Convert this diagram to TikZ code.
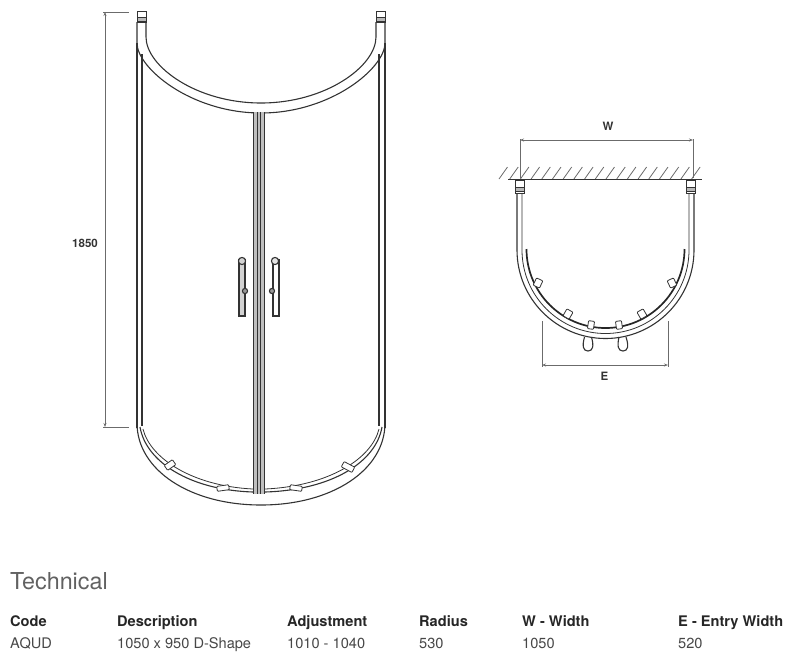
\documentclass[tikz,border=0pt]{standalone}
\usepackage{fontspec}
\setmainfont{TeX Gyre Heros}
\definecolor{ink}{gray}{0.2}
\definecolor{dimc}{gray}{0.42}
\definecolor{txt}{gray}{0.2}
\tikzset{
  frame/.style={draw=ink,line width=1.1pt},
  thin frame/.style={draw=ink,line width=0.8pt},
  heavy/.style={draw=black!85,line width=1.7pt},
  dimline/.style={draw=dimc,line width=0.8pt},
  dimarrow/.style={dimline,{Stealth[length=4pt,width=3pt]}-{Stealth[length=4pt,width=3pt]}},
  label/.style={font=\bfseries\fontsize{11.5}{13}\selectfont,text=txt,inner sep=0pt},
  head/.style={font=\bfseries\fontsize{14.6}{16}\selectfont,text=black!85,anchor=base west,inner sep=0pt},
  cell/.style={font=\fontsize{14.6}{16}\selectfont,text=black!72,anchor=base west,inner sep=0pt},
  roller/.style={draw=ink,line width=0.8pt,fill=white,rounded corners=0.8pt},
  postcap/.style={draw=ink,line width=0.7pt},
  postband/.style={draw=ink,line width=0.7pt,fill=gray!55}
}
\usetikzlibrary{arrows.meta}
\newcommand{\rollerat}[5]{\draw[roller,rotate around={#5:(#1,#2)}] ([xshift=-#3pt,yshift=-#4pt]#1,#2) rectangle ([xshift=#3pt,yshift=#4pt]#1,#2);}
\begin{document}
\begin{tikzpicture}[x=1pt,y=-1pt]
\useasboundingbox (0,0) rectangle (800,657);
% ---------- elevation ----------
% top posts
\draw[postcap] (137,11) rectangle (146,22);
\draw[postband] (137,17) rectangle (146,21);
\draw[postcap] (376,11) rectangle (385,22);
\draw[postband] (376,17) rectangle (385,21);
% top curved rail
\draw[frame] (137,22) -- (137,43) .. controls (137,68) and (191,113) .. (261,113) .. controls (331,113) and (385,68) .. (385,43) -- (385,22);
\draw[frame] (146,22) -- (146,37) .. controls (146,66) and (196,103) .. (261,103) .. controls (326,103) and (376,66) .. (376,37) -- (376,22);
% side lines
\draw[frame] (137,43) -- (137,428);
\draw[frame] (142,54) -- (142,426);
\draw[frame] (385,43) -- (385,428);
\draw[frame] (379,54) -- (379,426);
% bottom track
\draw[frame] (137,423) .. controls (137,470) and (190,505) .. (261,505) .. controls (332,505) and (385,470) .. (385,423);
\draw[frame] (140,427) .. controls (146,462) and (190,490) .. (253,492);
\draw[thin frame] (143,429) .. controls (150,458) and (192,486) .. (253,489);
\draw[frame] (382,427) .. controls (376,462) and (332,490) .. (265,492);
\draw[thin frame] (379,429) .. controls (372,458) and (330,486) .. (265,489);
\rollerat{170}{465}{5}{3}{35}
\rollerat{223}{488}{6}{2.5}{8}
\rollerat{296}{488}{6}{2.5}{-8}
\rollerat{348}{467}{6}{3}{-28}
% centre post
\fill[gray!50] (253,112) rectangle (265,494);
\draw[frame] (253.5,112) -- (253.5,494);
\draw[frame] (264.5,112) -- (264.5,494);
\draw[frame] (257.5,112) -- (257.5,494);
\draw[frame] (260.5,112) -- (260.5,494);
% handles
\draw[frame,fill=gray!35] (239,260) rectangle (245,316);
\draw[frame,fill=gray!35] (242,261) circle (3.6);
\draw[frame,fill=ink!50] (245,291) circle (2.6);
\draw[frame,fill=white] (273,260) rectangle (279,316);
\draw[frame,fill=gray!20] (275,261) circle (3.6);
\draw[frame,fill=ink!50] (272,291) circle (2.6);
% height dimension
\coordinate (h1) at (103,12);
\coordinate (h1e) at (129,12);
\coordinate (h2) at (103,427);
\coordinate (h2e) at (129,427);
\coordinate (ha) at (105,12);
\coordinate (hb) at (105,427);
\draw[dimline] (h1) -- (h1e);
\draw[dimline] (h2) -- (h2e);
\draw[dimarrow] (ha) -- (hb);
\node[label] (t1850) at (85,243.5) {1850};
% ---------- plan ----------
% wall
\foreach \x in {499,509.7,...,700} \draw[dimc,line width=0.8pt] (\x,179) -- (\x+8.5,167);
\draw[frame] (508,179.5) -- (702,179.5);
% posts
\draw[postcap] (515,180) rectangle (524,193);
\draw[postband] (515,187) rectangle (524,191);
\draw[postcap] (686,180) rectangle (695,193);
\draw[postband] (686,187) rectangle (695,191);
% shell
\draw[frame] (517,193) -- (517,250) arc[start angle=180,end angle=0,radius=88.5] -- (694,193);
\draw[thin frame] (522,193) -- (522,250) arc[start angle=180,end angle=0,radius=83.5] -- (689,193);
\draw[heavy] (526.5,249) arc[start angle=180,end angle=0,radius=79];
% rollers
\rollerat{538}{283}{3.5}{4}{-25}
\rollerat{568}{314}{3.5}{4}{-30}
\rollerat{591}{325}{3}{4}{-8}
\rollerat{619}{325}{3}{4}{8}
\rollerat{642}{314}{3.5}{4}{30}
\rollerat{672}{283}{3.5}{4}{25}
% plan handles
\draw[frame] (584.5,337) .. controls (582,346) and (583,351) .. (588,351) .. controls (593,351) and (594,346) .. (591.5,337);
\draw[frame] (619,337) .. controls (617,346) and (618,351) .. (623,351) .. controls (628,351) and (629,346) .. (626,337);
% W dimension
\coordinate (w1) at (520,178);
\coordinate (w1t) at (520,139);
\coordinate (w2) at (693,178);
\coordinate (w2t) at (693,139);
\draw[dimline] (w1) -- (w1t);
\draw[dimline] (w2) -- (w2t);
\draw[dimarrow] (520,140) -- (693,140);
\node[label] (tW) at (608,126.5) {W};
% E dimension
\coordinate (e1) at (542,321);
\coordinate (e1b) at (542,367);
\coordinate (e2) at (668,321);
\coordinate (e2b) at (668,367);
\draw[dimline] (e1) -- (e1b);
\draw[dimline] (e2) -- (e2b);
\draw[dimarrow] (542,365) -- (668,365);
\node[label] (tE) at (604.5,376) {E};
% ---------- table ----------
\node[anchor=base west,inner sep=0pt,font=\fontsize{23.3}{26}\selectfont,text=black!62] (tech) at (10,589) {Technical};
\node[head] (h1t) at (10,626) {Code};
\node[head] (h2t) at (117,626) {Description};
\node[head] (h3t) at (287,626) {Adjustment};
\node[head] (h4t) at (419,626) {Radius};
\node[head] (h5t) at (522,626) {W - Width};
\node[head] (h6t) at (678,626) {E - Entry Width};
\node[cell] (c1) at (10,648) {AQUD};
\node[cell] (c2) at (117,648) {1050 x 950 D-Shape};
\node[cell] (c3) at (287,648) {1010 - 1040};
\node[cell] (c4) at (419,648) {530};
\node[cell] (c5) at (522,648) {1050};
\node[cell] (c6) at (678,648) {520};
\end{tikzpicture}
\end{document}
